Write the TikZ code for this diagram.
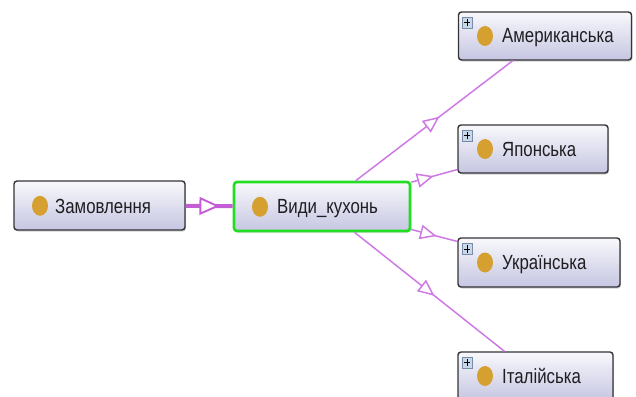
\documentclass[tikz,border=0pt]{standalone}
\usepackage{fontspec}
\setmainfont{Liberation Sans}
\newfontfamily\labelfont[FakeStretch=0.82]{Liberation Sans}
\usetikzlibrary{shadows, decorations.markings, shapes.geometric}

\definecolor{boxtop}{RGB}{248,248,252}
\definecolor{boxbot}{RGB}{198,198,226}
\definecolor{boxline}{RGB}{52,52,56}
\definecolor{selgreen}{RGB}{34,222,34}
\definecolor{edgecol}{RGB}{206,122,228}
\definecolor{thickcol}{RGB}{196,92,214}
\definecolor{dotcol}{RGB}{214,160,48}
\definecolor{plusfill}{RGB}{200,216,232}
\definecolor{plusline}{RGB}{120,140,168}
\definecolor{textcol}{RGB}{30,30,34}

\tikzset{
  classbox/.style={rectangle, rounded corners=3pt, draw=boxline, line width=1.4pt,
    top color=boxtop, bottom color=boxbot,
    drop shadow={shadow xshift=1pt, shadow yshift=-1.5pt, opacity=0.35}},
  selbox/.style={classbox, draw=selgreen, line width=2.6pt},
  dot/.style={ellipse, fill=dotcol, inner sep=0pt, minimum width=16pt, minimum height=20pt},
  lbl/.style={anchor=base west, inner sep=0pt, text=textcol,
    font=\labelfont\fontsize{20.5}{21}\selectfont},
  plusbox/.style={rectangle, draw=plusline, fill=plusfill, line width=0.6pt,
    minimum width=10pt, minimum height=11pt, inner sep=0pt},
  childedge/.style={draw=edgecol, line width=1.5pt},
  thickedge/.style={draw=thickcol, line width=4pt},
  % open triangle placed along the centre-to-centre line of two nodes
  openhead/.style n args={3}{postaction=decorate, decoration={markings,
    mark=at position #1 with {\draw[draw=#3, fill=white, line join=miter]
      ({-#2},{-0.45*#2}) -- (0pt,0pt) -- ({-#2},{0.45*#2}) -- cycle;}}},
}

\begin{document}
\begin{tikzpicture}[x=1pt, y=-1pt]
\useasboundingbox (0,0) rectangle (636,396);

% class boxes
\node[classbox, minimum width=171pt, minimum height=49pt] (zam) at (99.5,205.5) {};
\node[selbox,   minimum width=176pt, minimum height=49pt] (vid) at (322,206.5) {};
\node[classbox, minimum width=173pt, minimum height=48pt] (am)  at (545,36) {};
\node[classbox, minimum width=150pt, minimum height=48pt] (jap) at (533,149) {};
\node[classbox, minimum width=162pt, minimum height=49pt] (ukr) at (539,262.5) {};
\node[classbox, minimum width=155pt, minimum height=48pt] (ita) at (535.5,376) {};

% dots and names
\node[dot] (zam-dot) at (40,205.8) {};
\node[lbl] (zam-txt) at (55,213) {Замовлення};
\node[dot] (vid-dot) at (260,206.8) {};
\node[lbl] (vid-txt) at (277,213.5) {Види\_кухонь};
\node[dot] (am-dot) at (485,36) {};
\node[lbl] (am-txt) at (502,43) {Американська};
\node[dot] (jap-dot) at (485,149) {};
\node[lbl] (jap-txt) at (502,156) {Японська};
\node[dot] (ukr-dot) at (485,262.5) {};
\node[lbl] (ukr-txt) at (502,269.5) {Українська};
\node[dot] (ita-dot) at (485,376) {};
\node[lbl] (ita-txt) at (502,383) {Італійська};

% expand markers
\foreach \n/\y in {am/22.5, jap/135.5, ukr/249, ita/362.5} {
  \node[plusbox] (\n-plus) at (467,\y) {};
  \draw[line width=1pt, black] ([xshift=-3.2pt]\n-plus.center) -- ([xshift=3.2pt]\n-plus.center)
    ([yshift=-3.8pt]\n-plus.center) -- ([yshift=3.8pt]\n-plus.center);
}

% connectors
\draw[thickedge] (zam) -- (vid);
\path[openhead={0.53}{17pt}{thickcol}, line width=1.9pt] (zam.center) -- (vid.center);

\foreach \n in {am, jap, ukr, ita} {
  \draw[childedge] (vid) -- (\n);
  \path[openhead={0.52}{14pt}{edgecol}, line width=1.5pt] (vid.center) -- (\n.center);
}
\end{tikzpicture}
\end{document}
